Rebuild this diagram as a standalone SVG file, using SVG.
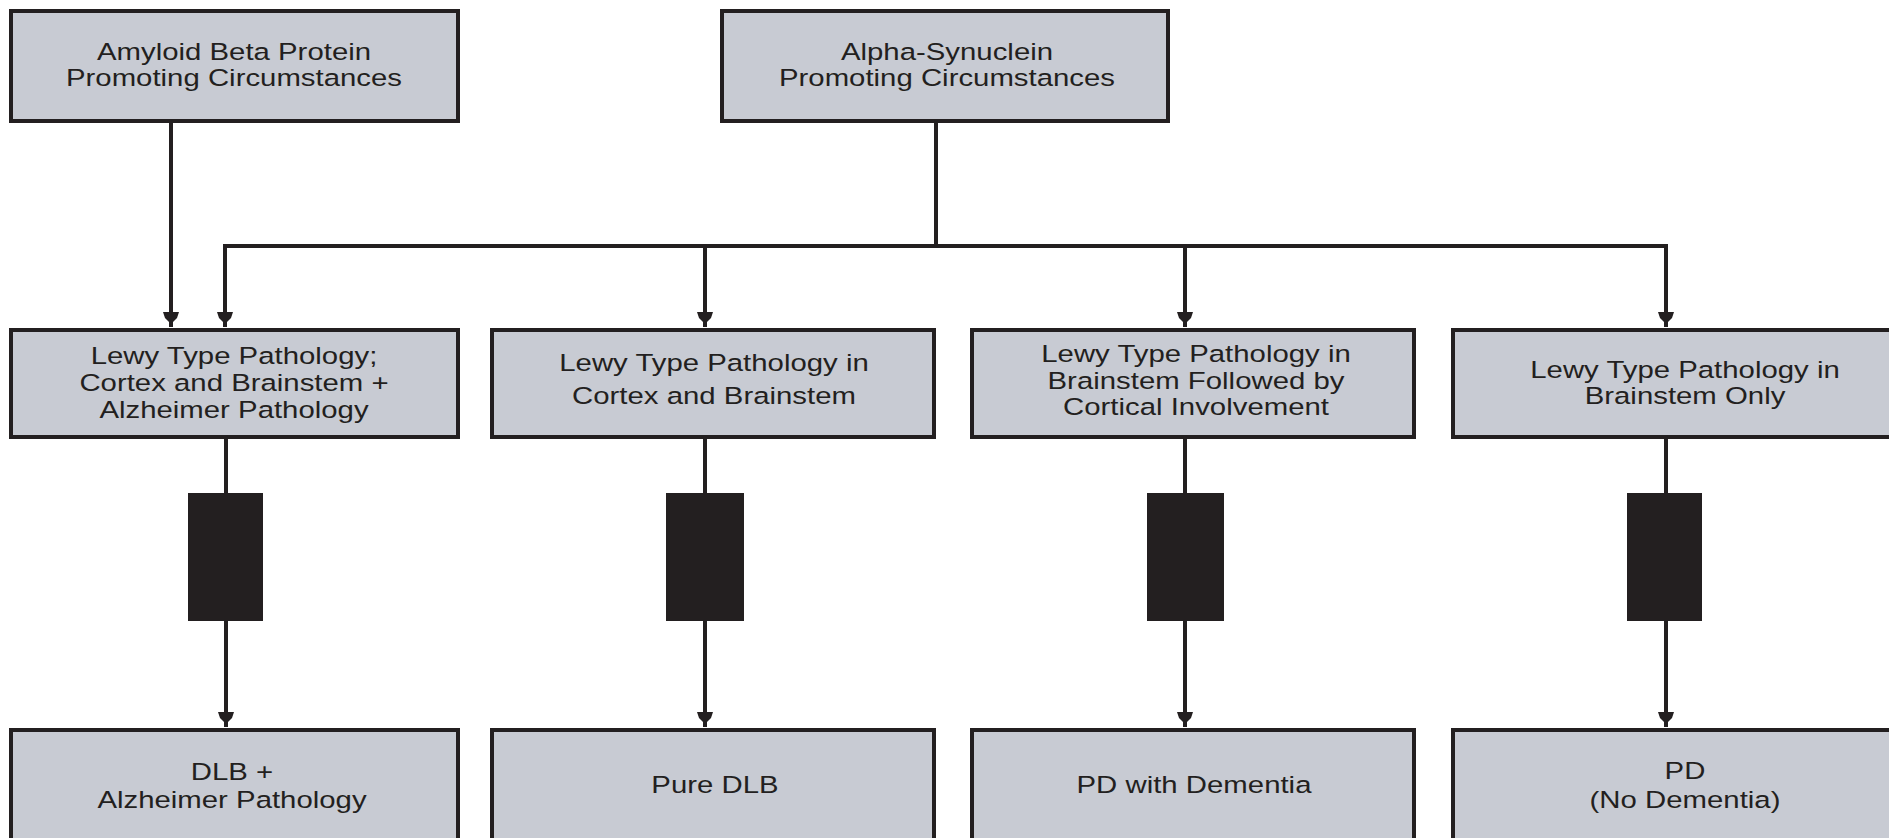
<svg xmlns="http://www.w3.org/2000/svg" width="1889" height="838" viewBox="0 0 1889 838">
<defs>
<style>
.box{fill:#c8cbd3;stroke:#231f20;stroke-width:4}
.blk{fill:#231f20;stroke:none}
.ln{fill:none;stroke:#231f20;stroke-width:4}
text{font-family:"Liberation Sans",Arial,sans-serif;font-size:23.3px;fill:#231f20;text-anchor:middle}
</style>
</defs>
<rect width="1889" height="838" fill="#ffffff"/>
<g id="connectors">
<path class="ln" d="M171,122 V313"/>
<polygon class="blk" points="163,312 179,312 177,318 173,322 173,327 169,327 169,322 165,318"/>
<path class="ln" d="M936,122 V246 M224,246 H1666 M225,244 V313 M705,244 V313 M1185,244 V313 M1666,244 V313"/>
<polygon class="blk" points="217,312 233,312 231,318 227,322 227,327 223,327 223,322 219,318"/>
<polygon class="blk" points="697,312 713,312 711,318 707,322 707,327 703,327 703,322 699,318"/>
<polygon class="blk" points="1177,312 1193,312 1191,318 1187,322 1187,327 1183,327 1183,322 1179,318"/>
<polygon class="blk" points="1658,312 1674,312 1672,318 1668,322 1668,327 1664,327 1664,322 1660,318"/>
<path class="ln" d="M226,438 V713 M705,438 V713 M1185,438 V713 M1666,438 V713"/>
<polygon class="blk" points="218,712 234,712 232,718 228,722 228,727 224,727 224,722 220,718"/>
<polygon class="blk" points="697,712 713,712 711,718 707,722 707,727 703,727 703,722 699,718"/>
<polygon class="blk" points="1177,712 1193,712 1191,718 1187,722 1187,727 1183,727 1183,722 1179,718"/>
<polygon class="blk" points="1658,712 1674,712 1672,718 1668,722 1668,727 1664,727 1664,722 1660,718"/>
<rect class="blk" x="188" y="493" width="75" height="128"/>
<rect class="blk" x="666" y="493" width="78" height="128"/>
<rect class="blk" x="1147" y="493" width="77" height="128"/>
<rect class="blk" x="1627" y="493" width="75" height="128"/>
</g>
<g id="n1">
<rect class="box" x="11" y="11" width="447" height="110"/>
<text transform="translate(234,0) scale(1.26,1)" y="60">Amyloid Beta Protein</text>
<text transform="translate(234,0) scale(1.26,1)" y="86">Promoting Circumstances</text>
</g>
<g id="n2">
<rect class="box" x="722" y="11" width="446" height="110"/>
<text transform="translate(947,0) scale(1.26,1)" y="60">Alpha-Synuclein</text>
<text transform="translate(947,0) scale(1.26,1)" y="86">Promoting Circumstances</text>
</g>
<g id="n3">
<rect class="box" x="11" y="330" width="447" height="107"/>
<text transform="translate(234,0) scale(1.26,1)" y="364">Lewy Type Pathology;</text>
<text transform="translate(234,0) scale(1.26,1)" y="391">Cortex and Brainstem +</text>
<text transform="translate(234,0) scale(1.26,1)" y="418">Alzheimer Pathology</text>
</g>
<g id="n4">
<rect class="box" x="492" y="330" width="442" height="107"/>
<text transform="translate(714,0) scale(1.26,1)" y="371">Lewy Type Pathology in</text>
<text transform="translate(714,0) scale(1.26,1)" y="404">Cortex and Brainstem</text>
</g>
<g id="n5">
<rect class="box" x="972" y="330" width="442" height="107"/>
<text transform="translate(1196,0) scale(1.26,1)" y="362">Lewy Type Pathology in</text>
<text transform="translate(1196,0) scale(1.26,1)" y="389">Brainstem Followed by</text>
<text transform="translate(1196,0) scale(1.26,1)" y="415">Cortical Involvement</text>
</g>
<g id="n6">
<rect class="box" x="1453" y="330" width="442" height="107"/>
<text transform="translate(1685,0) scale(1.26,1)" y="378">Lewy Type Pathology in</text>
<text transform="translate(1685,0) scale(1.26,1)" y="404">Brainstem Only</text>
</g>
<g id="n7">
<rect class="box" x="11" y="730" width="447" height="130"/>
<text transform="translate(232,0) scale(1.26,1)" y="780">DLB +</text>
<text transform="translate(232,0) scale(1.26,1)" y="808">Alzheimer Pathology</text>
</g>
<g id="n8">
<rect class="box" x="492" y="730" width="442" height="130"/>
<text transform="translate(715,0) scale(1.26,1)" y="793">Pure DLB</text>
</g>
<g id="n9">
<rect class="box" x="972" y="730" width="442" height="130"/>
<text transform="translate(1194,0) scale(1.26,1)" y="793">PD with Dementia</text>
</g>
<g id="n10">
<rect class="box" x="1453" y="730" width="442" height="130"/>
<text transform="translate(1685,0) scale(1.26,1)" y="779">PD</text>
<text transform="translate(1685,0) scale(1.26,1)" y="808">(No Dementia)</text>
</g>
</svg>
